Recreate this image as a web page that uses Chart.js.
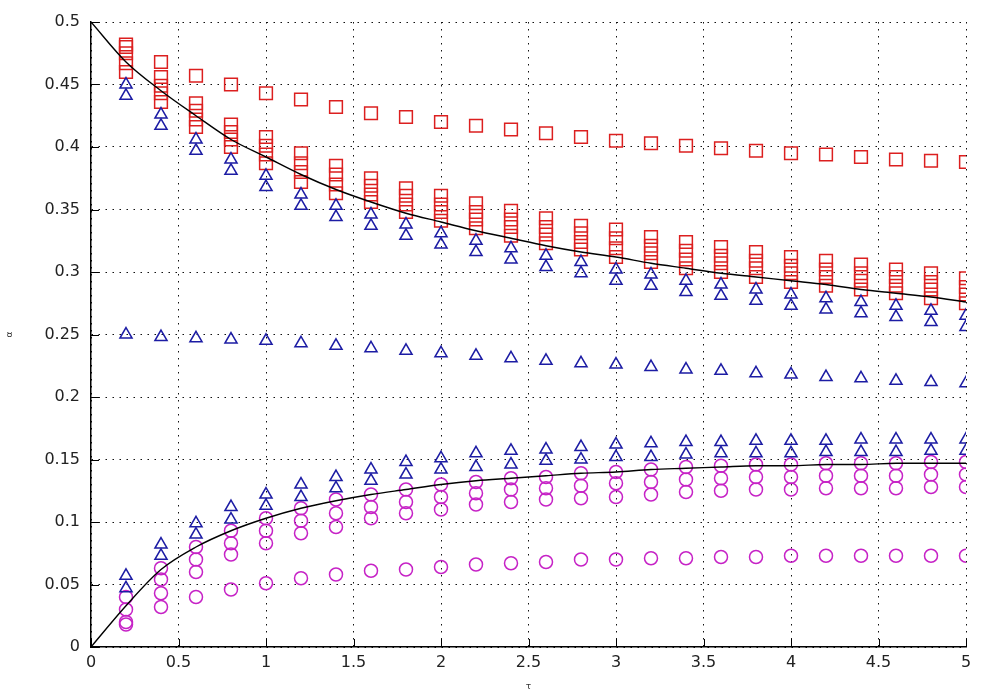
<!DOCTYPE html>
<html>
<head>
<meta charset="utf-8">
<title>Scatter comparison</title>
<script src="https://cdn.jsdelivr.net/npm/chart.js@4/dist/chart.umd.min.js"></script>
<style>
    body { margin: 0; background: #ffffff; }
    canvas { display: block; }
</style>
</head>
<body>

<canvas id="mainChart" width="982" height="694"></canvas>

<script>
// ===============================
// DATA
// ===============================

const tValues = [
    0.2, 0.4, 0.6, 0.8, 1.0, 1.2, 1.4, 1.6, 1.8, 2.0, 2.2, 2.4, 2.6,
    2.8, 3.0, 3.2, 3.4, 3.6, 3.8, 4.0, 4.2, 4.4, 4.6, 4.8, 5.0
];

const curveT = [
    0, 0.2, 0.4, 0.6, 0.8, 1.0, 1.2, 1.4, 1.6, 1.8, 2.0, 2.2, 2.4,
    2.6, 2.8, 3.0, 3.2, 3.4, 3.6, 3.8, 4.0, 4.2, 4.4, 4.6, 4.8, 5.0
];

// red squares: single upper row + cluster of four around the falling curve
const squareTop = [
    0.480, 0.468, 0.457, 0.450, 0.443, 0.438, 0.432, 0.427, 0.424, 0.420, 0.417, 0.414, 0.411,
    0.408, 0.405, 0.403, 0.401, 0.399, 0.397, 0.395, 0.394, 0.392, 0.390, 0.389, 0.388
];
const square1 = [
    0.482, 0.456, 0.435, 0.418, 0.408, 0.395, 0.385, 0.375, 0.367, 0.361, 0.355, 0.349, 0.343,
    0.337, 0.334, 0.328, 0.324, 0.320, 0.316, 0.312, 0.309, 0.306, 0.302, 0.299, 0.295
];
const square2 = [
    0.475, 0.449, 0.429, 0.412, 0.401, 0.387, 0.378, 0.369, 0.361, 0.354, 0.348, 0.342, 0.336,
    0.331, 0.327, 0.321, 0.317, 0.313, 0.309, 0.305, 0.302, 0.299, 0.296, 0.292, 0.288
];
const square3 = [
    0.467, 0.443, 0.422, 0.406, 0.394, 0.380, 0.370, 0.362, 0.354, 0.348, 0.342, 0.336, 0.330,
    0.324, 0.319, 0.315, 0.310, 0.307, 0.303, 0.299, 0.296, 0.293, 0.289, 0.286, 0.282
];
const square4 = [
    0.460, 0.436, 0.416, 0.400, 0.387, 0.372, 0.363, 0.356, 0.348, 0.341, 0.335, 0.329, 0.323,
    0.318, 0.312, 0.308, 0.303, 0.300, 0.296, 0.292, 0.289, 0.286, 0.283, 0.279, 0.275
];

// blue triangles: two under the squares, a middle row, two over the circles
const triUpper1 = [
    0.450, 0.426, 0.406, 0.390, 0.377, 0.362, 0.353, 0.346, 0.338, 0.331, 0.325, 0.319, 0.313,
    0.308, 0.302, 0.298, 0.293, 0.290, 0.286, 0.282, 0.279, 0.276, 0.273, 0.269, 0.265
];
const triUpper2 = [
    0.441, 0.417, 0.397, 0.381, 0.368, 0.353, 0.344, 0.337, 0.329, 0.322, 0.316, 0.310, 0.304,
    0.299, 0.293, 0.289, 0.284, 0.281, 0.277, 0.273, 0.270, 0.267, 0.264, 0.260, 0.256
];
const triMiddle = [
    0.250, 0.248, 0.247, 0.246, 0.245, 0.243, 0.241, 0.239, 0.237, 0.235, 0.233, 0.231, 0.229,
    0.227, 0.226, 0.224, 0.222, 0.221, 0.219, 0.218, 0.216, 0.215, 0.213, 0.212, 0.211
];
const triLower1 = [
    0.057, 0.082, 0.099, 0.112, 0.122, 0.130, 0.136, 0.142, 0.148, 0.151, 0.155, 0.157, 0.158,
    0.160, 0.162, 0.163, 0.164, 0.164, 0.165, 0.165, 0.165, 0.166, 0.166, 0.166, 0.166
];
const triLower2 = [
    0.047, 0.073, 0.090, 0.102, 0.113, 0.120, 0.127, 0.133, 0.138, 0.142, 0.144, 0.146, 0.149,
    0.150, 0.152, 0.152, 0.154, 0.155, 0.155, 0.155, 0.156, 0.156, 0.156, 0.157, 0.157
];

// magenta circles: cluster of three under the rising curve + lower row
const circle1 = [
    0.040, 0.063, 0.080, 0.093, 0.103, 0.111, 0.118, 0.122, 0.126, 0.130, 0.132, 0.135, 0.136,
    0.139, 0.140, 0.142, 0.144, 0.145, 0.146, 0.146, 0.147, 0.147, 0.147, 0.148, 0.148
];
const circle2 = [
    0.030, 0.054, 0.070, 0.083, 0.093, 0.101, 0.107, 0.112, 0.116, 0.120, 0.123, 0.126, 0.127,
    0.129, 0.131, 0.132, 0.134, 0.135, 0.136, 0.136, 0.137, 0.137, 0.137, 0.138, 0.138
];
const circle3 = [
    0.020, 0.043, 0.060, 0.074, 0.083, 0.091, 0.096, 0.103, 0.107, 0.110, 0.114, 0.116, 0.118,
    0.119, 0.120, 0.122, 0.124, 0.125, 0.126, 0.126, 0.127, 0.127, 0.127, 0.128, 0.128
];
const circleLow = [
    0.018, 0.032, 0.040, 0.046, 0.051, 0.055, 0.058, 0.061, 0.062, 0.064, 0.066, 0.067, 0.068,
    0.070, 0.070, 0.071, 0.071, 0.072, 0.072, 0.073, 0.073, 0.073, 0.073, 0.073, 0.073
];

// black reference curves
const upperCurve = [
    0.500, 0.468, 0.445, 0.425, 0.406, 0.392, 0.378, 0.366, 0.356, 0.347, 0.340, 0.333, 0.327,
    0.321, 0.316, 0.312, 0.307, 0.303, 0.299, 0.296, 0.293, 0.290, 0.286, 0.283, 0.280, 0.276
];
const lowerCurve = [
    0.000, 0.033, 0.062, 0.080, 0.093, 0.103, 0.111, 0.117, 0.122, 0.126, 0.130, 0.133, 0.135,
    0.137, 0.139, 0.140, 0.142, 0.143, 0.144, 0.145, 0.145, 0.146, 0.146, 0.147, 0.147, 0.147
];

// axes
const xTicks = [0, 0.5, 1, 1.5, 2, 2.5, 3, 3.5, 4, 4.5, 5];
const xTickLabels = ["0", "0.5", "1", "1.5", "2", "2.5", "3", "3.5", "4", "4.5", "5"];
const yTicks = [0, 0.05, 0.1, 0.15, 0.2, 0.25, 0.3, 0.35, 0.4, 0.45, 0.5];
const yTickLabels = ["0", "0.05", "0.1", "0.15", "0.2", "0.25", "0.3", "0.35", "0.4", "0.45", "0.5"];

// ===============================
// HELPERS
// ===============================

const RED = "#dc1f1f";
const BLUE = "#1c1ca4";
const MAGENTA = "#c622c6";

function pairUp(xs, ys) {
    return ys.map((y, i) => ({ x: xs[i], y: y }));
}

function markers(values, style, color, radius) {
    return {
        data: pairUp(tValues, values),
        showLine: false,
        pointStyle: style,
        pointRadius: radius,
        pointBorderWidth: 1.5,
        pointBorderColor: color,
        pointBackgroundColor: "rgba(0,0,0,0)",
        order: style === "rect" ? 3 : (style === "circle" ? 2 : 1)
    };
}

function curve(values) {
    return {
        data: pairUp(curveT, values),
        showLine: true,
        borderColor: "#000000",
        borderWidth: 1.4,
        pointRadius: 0,
        cubicInterpolationMode: "monotone",
        order: 0
    };
}

// small tick marks pointing into the plot
const innerTicks = {
    id: "innerTicks",
    beforeDatasetsDraw(chart) {
        const { ctx, chartArea, scales } = chart;
        ctx.save();
        ctx.strokeStyle = "#000000";
        ctx.lineWidth = 1;
        ctx.beginPath();
        xTicks.forEach(v => {
            const px = Math.round(scales.x.getPixelForValue(v)) + 0.5;
            ctx.moveTo(px, chartArea.bottom);
            ctx.lineTo(px, chartArea.bottom - 8);
        });
        yTicks.forEach(v => {
            const py = Math.round(scales.y.getPixelForValue(v)) + 0.5;
            ctx.moveTo(chartArea.left, py);
            ctx.lineTo(chartArea.left + 8, py);
        });
        ctx.stroke();
        ctx.restore();
    }
};

const tickFont = { family: "DejaVu Sans", size: 16 };

// ===============================
// CHART
// ===============================

new Chart(document.getElementById("mainChart"), {

    type: "scatter",

    data: {
        datasets: [
            curve(upperCurve),
            curve(lowerCurve),

            markers(squareTop, "rect", RED, 9),
            markers(square1, "rect", RED, 9),
            markers(square2, "rect", RED, 9),
            markers(square3, "rect", RED, 9),
            markers(square4, "rect", RED, 9),

            markers(triUpper1, "triangle", BLUE, 7),
            markers(triUpper2, "triangle", BLUE, 7),
            markers(triMiddle, "triangle", BLUE, 7),
            markers(triLower1, "triangle", BLUE, 7),
            markers(triLower2, "triangle", BLUE, 7),

            markers(circle1, "circle", MAGENTA, 6.5),
            markers(circle2, "circle", MAGENTA, 6.5),
            markers(circle3, "circle", MAGENTA, 6.5),
            markers(circleLow, "circle", MAGENTA, 6.5)
        ]
    },

    options: {

        responsive: false,
        animation: false,

        layout: {
            padding: { top: 22, right: 16, left: 0, bottom: 0 }
        },

        plugins: {
            legend: { display: false },
            tooltip: { enabled: false }
        },

        scales: {

            x: {
                type: "linear",
                min: 0,
                max: 5,
                afterBuildTicks: scale => {
                    scale.ticks = xTicks.map(v => ({ value: v }));
                },
                afterFit: scale => {
                    scale.height = 47;
                },
                ticks: {
                    callback: (value, index) => xTickLabels[index],
                    font: tickFont,
                    color: "#222222",
                    padding: 6,
                    maxRotation: 0,
                    autoSkip: false
                },
                grid: {
                    color: "#111111",
                    lineWidth: 1,
                    drawTicks: false
                },
                border: {
                    display: true,
                    color: "#000000",
                    width: 1.5,
                    dash: [1.5, 5.5]
                },
                title: {
                    display: true,
                    text: "τ",
                    font: { family: "DejaVu Sans", size: 9 },
                    color: "#333333",
                    padding: { top: 0, bottom: 2 }
                }
            },

            y: {
                type: "linear",
                min: 0,
                max: 0.5,
                afterBuildTicks: scale => {
                    scale.ticks = yTicks.map(v => ({ value: v }));
                },
                afterFit: scale => {
                    scale.width = 91;
                },
                ticks: {
                    callback: (value, index) => yTickLabels[index],
                    font: tickFont,
                    color: "#222222",
                    padding: 11,
                    autoSkip: false
                },
                grid: {
                    color: "#111111",
                    lineWidth: 1,
                    drawTicks: false
                },
                border: {
                    display: true,
                    color: "#000000",
                    width: 1.5,
                    dash: [1.5, 5.5]
                },
                title: {
                    display: true,
                    text: "α",
                    font: { family: "DejaVu Sans", size: 9 },
                    color: "#333333",
                    padding: { top: 4, bottom: 0 }
                }
            }
        }
    },

    plugins: [innerTicks]
});
</script>
</body>
</html>
